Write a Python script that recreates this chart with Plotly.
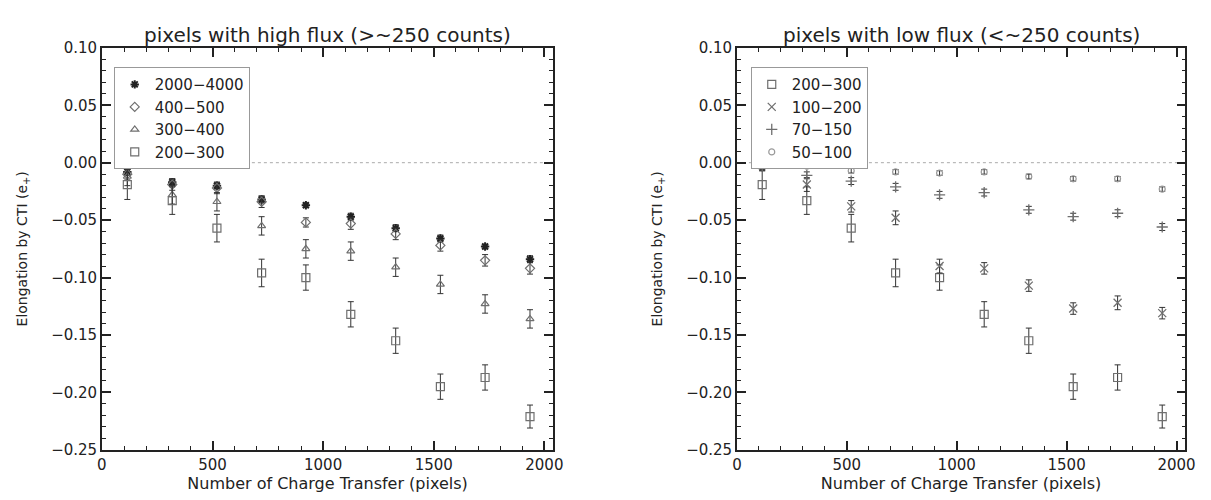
import plotly.graph_objects as go

# ---------------- data ----------------
x_transfer = [115, 318, 520, 722, 922, 1125, 1328, 1530, 1732, 1935]

# left panel (high flux)
high_2000_4000 = [-0.008, -0.017, -0.020, -0.032, -0.037, -0.047, -0.057, -0.066, -0.073, -0.084]
err_2000_4000 = [0.003, 0.003, 0.003, 0.003, 0.002, 0.003, 0.003, 0.003, 0.002, 0.003]
high_400_500 = [-0.010, -0.019, -0.022, -0.034, -0.052, -0.053, -0.062, -0.072, -0.085, -0.092]
err_400_500 = [0.005, 0.005, 0.005, 0.005, 0.004, 0.005, 0.005, 0.005, 0.005, 0.005]
high_300_400 = [-0.012, -0.028, -0.034, -0.055, -0.075, -0.077, -0.091, -0.106, -0.123, -0.136]
err_300_400 = [0.008, 0.008, 0.008, 0.008, 0.008, 0.008, 0.008, 0.008, 0.008, 0.008]
flux_200_300 = [-0.019, -0.033, -0.057, -0.096, -0.100, -0.132, -0.155, -0.195, -0.187, -0.221]
err_200_300 = [0.013, 0.012, 0.012, 0.012, 0.011, 0.011, 0.011, 0.011, 0.011, 0.010]

# right panel (low flux)
low_100_200 = [-0.002, -0.019, -0.038, -0.048, -0.090, -0.092, -0.107, -0.127, -0.122, -0.131]
err_100_200 = [0.005, 0.006, 0.005, 0.006, 0.006, 0.005, 0.005, 0.005, 0.006, 0.005]
low_70_150 = [-0.003, -0.011, -0.016, -0.021, -0.028, -0.026, -0.041, -0.047, -0.044, -0.056]
err_70_150 = [0.004, 0.003, 0.003, 0.003, 0.003, 0.003, 0.003, 0.003, 0.003, 0.003]
low_50_100 = [0.000, -0.003, -0.007, -0.008, -0.009, -0.008, -0.012, -0.014, -0.014, -0.023]
err_50_100 = [0.002, 0.002, 0.002, 0.002, 0.002, 0.002, 0.002, 0.002, 0.002, 0.002]

x_ticks = [0, 500, 1000, 1500, 2000]
y_ticks = [0.10, 0.05, 0.00, -0.05, -0.10, -0.15, -0.20, -0.25]

# ---------------- figure ----------------
W, H = 1211, 500
FONT = "DejaVu Sans"
TXT = "#222222"
MK = "#6f6f6f"
ERR = "#333333"

fig = go.Figure()


def add(name, y, err, symbol, xa, ya, legend, size=7, mcol=MK, lw=1.2):
    fig.add_trace(go.Scatter(
        x=x_transfer, y=y, mode="markers", name=name,
        xaxis=xa, yaxis=ya, legend=legend,
        marker=dict(symbol=symbol, size=size, color=mcol,
                    line=dict(color=mcol, width=lw)),
        error_y=dict(type="data", array=err, visible=True,
                     color=ERR, thickness=1, width=3),
    ))


add("2000\u22124000", high_2000_4000, err_2000_4000, "asterisk-open", "x", "y", "legend",
    size=7, mcol="#222222", lw=2)
add("400\u2212500", high_400_500, err_400_500, "diamond-open", "x", "y", "legend", size=7)
add("300\u2212400", high_300_400, err_300_400, "triangle-up-open", "x", "y", "legend", size=7)
add("200\u2212300", flux_200_300, err_200_300, "square-open", "x", "y", "legend", size=8)

add("200\u2212300", flux_200_300, err_200_300, "square-open", "x2", "y2", "legend2", size=8)
add("100\u2212200", low_100_200, err_100_200, "x-thin-open", "x2", "y2", "legend2", size=8, lw=1.3)
add("70\u2212150", low_70_150, err_70_150, "cross-thin-open", "x2", "y2", "legend2", size=8, lw=1.3)
add("50\u2212100", low_50_100, err_50_100, "circle-open", "x2", "y2", "legend2", size=6, mcol="#9a9a9a")

# domains in pixels
L1, R1 = 90, 547
L2, R2 = 733, 1187
T, B = 32, 449

xaxis_common = dict(
    range=[0, 2040], tickvals=x_ticks, ticks="inside", ticklen=9, tickwidth=1.5,
    tickcolor="#222", showline=True, linecolor="#222", linewidth=1.5, mirror="ticks",
    showgrid=False, zeroline=False,
    minor=dict(dtick=100, ticks="inside", ticklen=4, tickcolor="#222", tickwidth=1.2),
    tickfont=dict(family=FONT, size=15, color=TXT),
    title=dict(text="Number of Charge Transfer (pixels)", standoff=3,
               font=dict(family=FONT, size=16, color=TXT)),
)
yaxis_common = dict(
    range=[-0.25, 0.10], tickvals=y_ticks, tickformat=".2f", ticks="inside", ticklen=9,
    tickwidth=1.5, tickcolor="#222", showline=True, linecolor="#222", linewidth=1.5,
    mirror="ticks", showgrid=False, zeroline=False,
    minor=dict(dtick=0.01, ticks="inside", ticklen=4, tickcolor="#222", tickwidth=1.2),
    tickfont=dict(family=FONT, size=15, color=TXT),
    title=dict(text="Elongation by CTI (e<sub>+</sub>)", standoff=20,
               font=dict(family=FONT, size=14, color=TXT)),
)

fig.update_layout(
    width=W, height=H,
    margin=dict(l=0, r=0, t=0, b=0),
    paper_bgcolor="white", plot_bgcolor="white",
    font=dict(family=FONT, color=TXT),
    xaxis=dict(domain=[L1 / W, R1 / W], anchor="y", **xaxis_common),
    yaxis=dict(domain=[1 - B / H, 1 - T / H], anchor="x", **yaxis_common),
    xaxis2=dict(domain=[L2 / W, R2 / W], anchor="y2", **xaxis_common),
    yaxis2=dict(domain=[1 - B / H, 1 - T / H], anchor="x2", **yaxis_common),
    legend=dict(x=102 / W, y=1 - 52 / H, xanchor="left", yanchor="top",
                bordercolor="#999", borderwidth=1, bgcolor="white",
                font=dict(family=FONT, size=15, color=TXT),
                itemwidth=30, tracegroupgap=0),
    legend2=dict(x=747 / W, y=1 - 52 / H, xanchor="left", yanchor="top",
                 bordercolor="#999", borderwidth=1, bgcolor="white",
                 font=dict(family=FONT, size=15, color=TXT),
                 itemwidth=30, tracegroupgap=0),
    showlegend=True,
)

# dotted zero lines
for xr, yr in (("x", "y"), ("x2", "y2")):
    fig.add_shape(type="line", xref=xr + " domain", yref=yr, x0=0, x1=1, y0=0, y1=0,
                  line=dict(color="#aaaaaa", width=1, dash="dot"), layer="below")

# panel titles
fig.add_annotation(text="pixels with high flux (>~250 counts)", x=(L1 + R1) / 2 / W, y=1 - 19 / H,
                   xref="paper", yref="paper", xanchor="center", yanchor="middle", showarrow=False,
                   font=dict(family=FONT, size=20, color=TXT))
fig.add_annotation(text="pixels with low flux (<~250 counts)", x=(L2 + R2) / 2 / W, y=1 - 19 / H,
                   xref="paper", yref="paper", xanchor="center", yanchor="middle", showarrow=False,
                   font=dict(family=FONT, size=20, color=TXT))

fig.write_html("out.html")
